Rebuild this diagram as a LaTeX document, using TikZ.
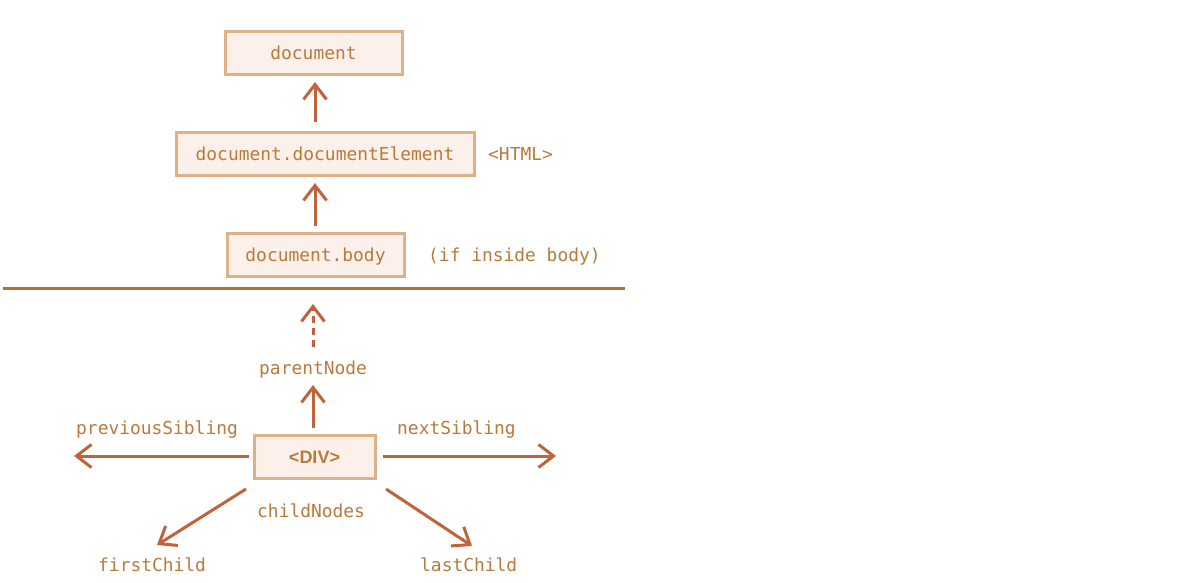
\documentclass[tikz,border=0pt]{standalone}
\usepackage{fontspec}
\setmonofont{DejaVu Sans Mono}
\newfontfamily\divfont{Liberation Sans}
\usetikzlibrary{arrows.meta}
\definecolor{boxfill}{HTML}{FBF1EA}
\definecolor{boxline}{HTML}{DFB189}
\definecolor{txt}{HTML}{B97A3A}
\definecolor{arr}{HTML}{C0633A}
\definecolor{sep}{HTML}{B5712F}
\tikzset{
  elbox/.style={draw=boxline, line width=3pt, fill=boxfill, inner sep=0pt, text height=13pt, text depth=0pt, font=\ttfamily\fontsize{17.9}{20}\selectfont, text=txt},
  lbl/.style={font=\ttfamily\fontsize{17.9}{20}\selectfont, text=txt, inner sep=0pt, anchor=base west},
  conn/.style={draw=arr, line width=3pt, -{Straight Barb[length=15pt,width=23pt,line width=3pt]}},
}
\begin{document}
\begin{tikzpicture}[x=1pt,y=-1pt]
\useasboundingbox (0,0) rectangle (1201,583);
\node[elbox, minimum width=177pt, minimum height=43pt] (doc) at (313.5,53) {document};
\node[elbox, minimum width=298pt, minimum height=43pt] (docel) at (325,153.5) {document.documentElement};
\node[elbox, minimum width=177pt, minimum height=43pt] (body) at (315.5,255) {document.body};
\node[lbl] (html) at (488,160) {<HTML>};
\node[lbl] (ifin) at (428,261) {(if inside body)};
\coordinate (sepL) at (3,288);
\coordinate (sepR) at (625,288);
\draw[sep, line width=3pt] (sepL) -- (sepR);
\node[elbox, minimum width=121pt, minimum height=43pt, font=\divfont\bfseries\fontsize{18}{20}\selectfont] (div) at (314.5,456.5) {<DIV>};
\node[lbl] (parent) at (259,374) {parentNode};
\node[lbl] (prev) at (76,434) {previousSibling};
\node[lbl] (next) at (397,434) {nextSibling};
\node[lbl] (child) at (257,517) {childNodes};
\node[lbl] (first) at (98,571) {firstChild};
\node[lbl] (last) at (420,571) {lastChild};
% arrow end points
\coordinate (a1s) at (315,122); \coordinate (a1e) at (315,82);
\coordinate (a2s) at (315,226); \coordinate (a2e) at (315,183);
\coordinate (dashbot) at (313,347); \coordinate (dashtop) at (313,304);
\coordinate (pns) at (313,428); \coordinate (pne) at (313,385);
\coordinate (ls) at (249,456); \coordinate (leftend) at (74,456);
\coordinate (rs) at (383,456); \coordinate (rightend) at (556,456);
\coordinate (fcstart) at (246,489); \coordinate (fcend) at (157,545);
\coordinate (lcstart) at (386,489); \coordinate (lcend) at (472,546);
\draw[conn] (a1s) -- (a1e);
\draw[conn] (a2s) -- (a2e);
\draw[conn, dash pattern=on 7pt off 5pt] (dashbot) -- (dashtop);
\draw[conn] (pns) -- (pne);
\draw[conn] (ls) -- (leftend);
\draw[conn] (rs) -- (rightend);
\draw[conn] (fcstart) -- (fcend);
\draw[conn] (lcstart) -- (lcend);
\end{tikzpicture}
\end{document}
